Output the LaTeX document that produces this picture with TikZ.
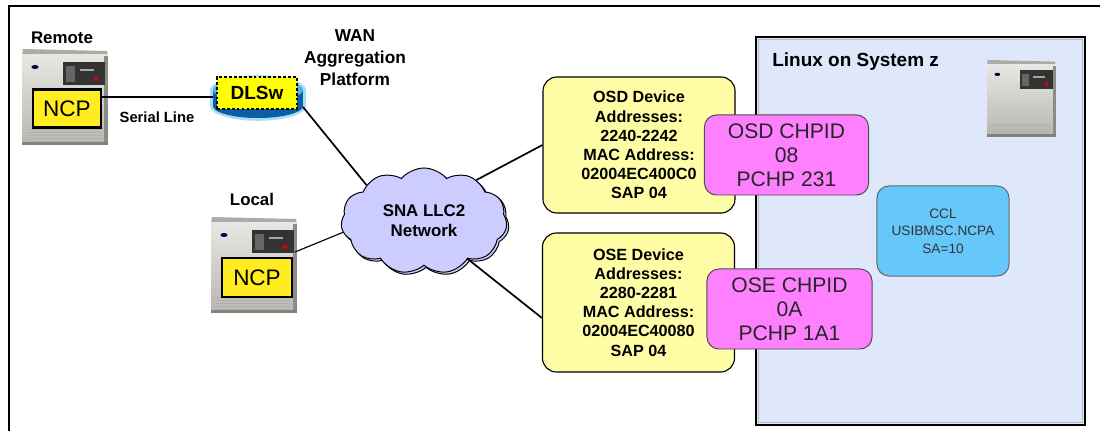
\documentclass[tikz,border=0pt]{standalone}
\usepackage{fontspec}
\setmainfont{Liberation Sans}
\usepackage{tikz}
\usetikzlibrary{shapes.symbols, shadows, positioning, calc}
\definecolor{ncpyellow}{rgb}{1.00, 0.93, 0.13}
\definecolor{dlswyellow}{rgb}{1.00, 1.00, 0.00}
\definecolor{boxyellow}{rgb}{1.00, 0.99, 0.65}
\definecolor{chpidpink}{rgb}{1.00, 0.50, 1.00}
\definecolor{cclblue}{rgb}{0.40, 0.78, 0.98}
\definecolor{lparblue}{rgb}{0.87, 0.91, 0.98}
\definecolor{cloudblue}{rgb}{0.80, 0.80, 1.00}
\definecolor{rtrglow}{rgb}{0.66, 0.87, 0.96}
\definecolor{rtrtop}{rgb}{0.30, 0.70, 0.90}
\definecolor{rtrside}{rgb}{0.04, 0.37, 0.65}
\definecolor{cabinet}{rgb}{0.85, 0.84, 0.81}
\tikzstyle{link} = [line width=1.2pt, black]
\tikzset{
  mainframe/.pic={
    % cabinet
    \fill[cabinet!80!black] (1,0) -- (85,2) -- (86,7) -- (0,6) -- cycle;
    \shade[top color=cabinet!60, bottom color=cabinet!85!black] (0,6) rectangle (86,96);
    \fill[cabinet!65!black] (82,7) rectangle (86,96);
    % operator panel
    \fill[black!80] (41,13) rectangle (83,36);
    \fill[black!60] (44,17) rectangle (53,33);
    \fill[gray!70] (58,20) rectangle (72,22);
    \fill[red!85!black] (72,28) rectangle (76,32);
    \fill[blue!30!black] (13,18) ellipse [x radius=0.09cm, y radius=0.05cm];
    % vents
    \foreach \v in {80,83,...,92}
      \draw[gray!60, line width=0.4pt] (5,\v) -- (80,\v);
    \fill[cabinet!60!black] (0,93) rectangle (86,96);
    \coordinate (-port) at (84,35);
  },
  router/.pic={
    \fill[rtrglow] (-48,-7) rectangle (48,9);
    \fill[rtrglow] (0,-7) ellipse [x radius=1.2cm, y radius=0.37cm];
    \fill[rtrglow] (0,9) ellipse [x radius=1.2cm, y radius=0.37cm];
    \fill[rtrside] (-45,-7) rectangle (45,9);
    \fill[rtrside] (0,9) ellipse [x radius=1.125cm, y radius=0.3cm];
    \fill[rtrtop] (0,-7) ellipse [x radius=1.125cm, y radius=0.3cm];
    \coordinate (-west) at (-45,0);
    \coordinate (-east) at (45,10);
  }
}

\begin{document}
\begin{tikzpicture}[x=0.025cm, y=-0.025cm,
    title/.style={font=\fontsize{12}{15}\selectfont\bfseries, align=center, inner sep=0pt},
    ncp/.style={draw=black, line width=1.6pt, fill=ncpyellow, font=\fontsize{16}{18}\selectfont, minimum width=1.7cm, minimum height=0.95cm, inner sep=0pt},
    osabox/.style={draw=black, line width=0.8pt, fill=boxyellow, rounded corners=0.35cm, minimum width=4.8cm, minimum height=3.4cm, align=center, font=\fontsize{11.5}{13.6}\selectfont\bfseries},
    chpid/.style={draw=black!70, line width=0.7pt, fill=chpidpink, rounded corners=0.3cm, minimum width=4.1cm, minimum height=2cm, align=center, font=\fontsize{15}{17}\selectfont, text=black!85},
    ccl/.style={draw=black!60, line width=0.7pt, fill=cclblue, rounded corners=0.3cm, minimum width=3.3cm, minimum height=2.25cm, align=center, font=\fontsize{9.7}{12.4}\selectfont, text=black!80}]
    \useasboundingbox (0,0) rectangle (1100,431);
    \draw[line width=1pt] (9,431) -- (9,6) -- (1100,6);

    % Linux partition
    \fill[lparblue] (756,37) rectangle (1085,425);
    \draw[gray!55, line width=1.4pt] (758.5,39.5) rectangle (1082.5,422.5);
    \draw[black, line width=1.4pt] (756,37) rectangle (1085,425);
    \node[title, anchor=west, font=\fontsize{13.5}{15}\selectfont\bfseries] (lnx) at (772,62) {Linux on System z};
    \pic[scale=0.8] (zsrv) at (987,60) {mainframe};

    % remote and local NCPs
    \node[title] (remote) at (62,38) {Remote};
    \pic (rsrv) at (22,49) {mainframe};
    \node[ncp] (ncpR) at (67,108.5) {NCP};
    \node[title] (local) at (252,199) {Local};
    \pic (lsrv) at (211,217) {mainframe};
    \node[ncp, minimum width=1.75cm, minimum height=0.975cm] (ncpL) at (257,277.5) {NCP};

    % DLSw router
    \pic (dsw) at (258,97) {router};
    \node[draw=black, line width=1.3pt, dash pattern=on 2pt off 1.5pt, fill=dlswyellow, minimum width=2cm, minimum height=0.8cm, inner sep=0pt, font=\fontsize{13.5}{15}\selectfont\bfseries] (dlsw) at (257,93) {DLSw};
    \node[title, font=\fontsize{12.3}{15.6}\selectfont\bfseries] (wan) at (355,58) {WAN\\Aggregation\\Platform};
    \node[font=\fontsize{10.5}{12}\selectfont\bfseries] (serial) at (157,117) {Serial Line};

    % network
    \node[cloud, cloud puffs=11, cloud puff arc=100, aspect=1.6, draw=black, line width=0.7pt, fill=cloudblue,
          copy shadow={shadow xshift=1.5pt, shadow yshift=-1.5pt},
          minimum width=4.15cm, minimum height=2.65cm, align=center, font=\fontsize{12}{14}\selectfont\bfseries] (net) at (424,221) {SNA LLC2\\Network};

    % OSA ports
    \node[osabox] (osd) at (639,145) {OSD Device\\Addresses:\\2240-2242\\MAC Address:\\02004EC400C0\\SAP 04};
    \node[osabox, minimum height=3.475cm] (ose) at (638.5,302.5) {OSE Device\\Addresses:\\2280-2281\\MAC Address:\\02004EC40080\\SAP 04};
    \node[chpid] (osdch) at (786.5,155) {OSD CHPID\\08\\PCHP 231};
    \node[chpid, minimum width=4.125cm] (osech) at (789.5,309) {OSE CHPID\\0A\\PCHP 1A1};
    \node[ccl] (cclnode) at (943,231) {CCL\\USIBMSC.NCPA\\SA=10};

    \draw[link] (ncpR.east |- dsw-west) -- (dsw-west);
    \draw[link] (dsw-east) -- (net.148);
    \draw[line width=0.8pt] (lsrv-port) -- (net.188);
    \draw[link] (net.38) -- (osd.west);
    \draw[link] (net.-41) -- ([yshift=-11pt]ose.west);
\end{tikzpicture}
\end{document}
